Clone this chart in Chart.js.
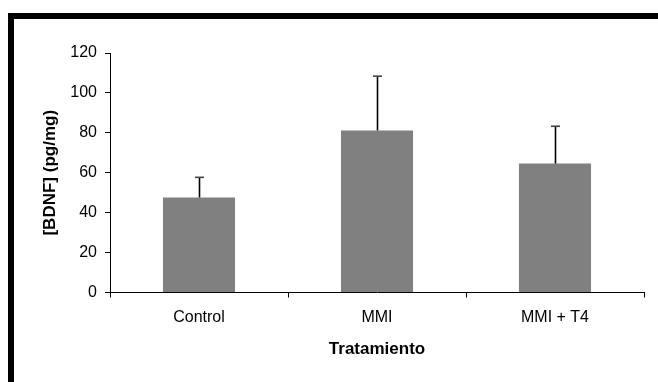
<!DOCTYPE html>
<html>
<head>
<meta charset="utf-8">
<script src="https://cdn.jsdelivr.net/npm/chart.js@4"></script>
<style>
  html, body { margin: 0; padding: 0; background: #fff; overflow: hidden; }
  #frame {
    position: absolute; left: 8px; top: 13px;
    width: 1000px; height: 1000px;
    border-top: 6px solid #000; border-left: 6px solid #000;
  }
  #c { position: absolute; left: 0; top: 0; }
</style>
</head>
<body>
<div id="frame"></div>
<canvas id="c" width="658" height="382"></canvas>
<script>
// Treatment groups
const categories = ['Control', 'MMI', 'MMI + T4'];
// Mean BDNF concentration (pg/mg) per group
const means = [47.6, 81.2, 64.6];
// Upper error (pg/mg) added on top of each mean
const errors = [10.1, 27.2, 18.7];
// Y axis tick range
const yTicks = { min: 0, max: 120, step: 20 };

const FONT = "'Liberation Sans', Arial, sans-serif";

// Draws one-sided (upward) error bars above each bar
const errorBars = {
  id: 'errorBars',
  afterDatasetsDraw(chart) {
    const ctx = chart.ctx;
    const meta = chart.getDatasetMeta(0);
    const y = chart.scales.y;
    ctx.save();
    meta.data.forEach((bar, i) => {
      const top = y.getPixelForValue(means[i] + errors[i]);
      const x = Math.round(bar.x) + 0.5;
      ctx.strokeStyle = '#000';
      ctx.lineWidth = 1.6;
      ctx.beginPath();
      ctx.moveTo(x, bar.y);
      ctx.lineTo(x, top);
      ctx.stroke();
      ctx.strokeStyle = '#444';
      ctx.lineWidth = 1.6;
      ctx.beginPath();
      ctx.moveTo(x - 4.5, top);
      ctx.lineTo(x + 4.5, top);
      ctx.stroke();
    });
    ctx.restore();
  }
};

new Chart(document.getElementById('c'), {
  type: 'bar',
  data: {
    labels: categories,
    datasets: [{
      data: means,
      backgroundColor: '#808080',
      borderWidth: 0,
      barPercentage: 0.405,
      categoryPercentage: 1.0
    }]
  },
  options: {
    responsive: false,
    animation: false,
    devicePixelRatio: 1,
    layout: { padding: { left: 0, top: 53, right: 14, bottom: 0 } },
    plugins: { legend: { display: false }, tooltip: { enabled: false } },
    scales: {
      x: {
        type: 'category',
        offset: true,
        grid: { display: true, drawOnChartArea: false, drawTicks: true, tickLength: 5, color: '#000', lineWidth: 1 },
        border: { display: true, color: '#000', width: 1 },
        ticks: { color: '#000', font: { family: FONT, size: 16 }, padding: 10, maxRotation: 0 },
        title: {
          display: true, text: 'Tratamiento', color: '#000',
          font: { family: FONT, size: 17, weight: 'bold' },
          padding: { top: 0, bottom: 22 }
        },
        afterFit(scale) { scale.height = 89.5; }
      },
      y: {
        min: yTicks.min, max: yTicks.max,
        grid: { display: true, drawOnChartArea: false, drawTicks: true, tickLength: 5, color: '#000', lineWidth: 1 },
        border: { display: true, color: '#000', width: 1 },
        ticks: { stepSize: yTicks.step, color: '#000', font: { family: FONT, size: 16 }, padding: 8 },
        title: {
          display: true, text: '[BDNF] (pg/mg)', color: '#000',
          font: { family: FONT, size: 17, weight: 'bold' },
          padding: { top: 40, bottom: 0 }
        },
        afterFit(scale) { scale.width = 110; }
      }
    }
  },
  plugins: [errorBars]
});
</script>
</body>
</html>
